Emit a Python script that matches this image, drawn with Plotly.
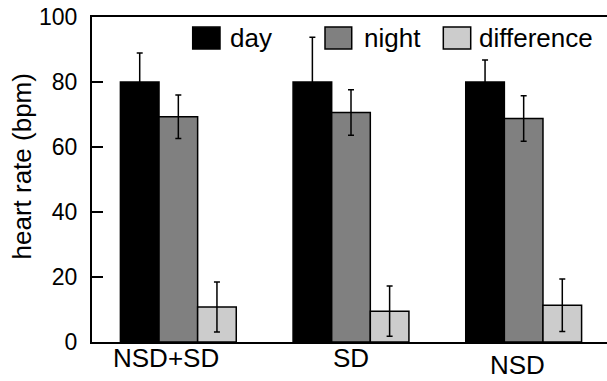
import plotly.graph_objects as go

categories = ["NSD+SD", "SD", "NSD"]
day = [80.0, 80.0, 80.0]
day_err = [8.9, 13.8, 6.8]
night = [69.3, 70.6, 68.8]
night_err = [6.7, 7.0, 7.0]
difference = [10.8, 9.5, 11.3]
difference_err = [7.7, 7.7, 8.1]
series_names = ["day", "night", "difference"]
y_ticks = [0, 20, 40, 60, 80, 100]

colors = ["#000000", "#808080", "#cccccc"]
FONT = "Liberation Sans, Arial, Helvetica, sans-serif"

fig = go.Figure()
for name, vals, errs, col in zip(series_names, [day, night, difference],
                                 [day_err, night_err, difference_err], colors):
    fig.add_trace(go.Bar(
        x=categories, y=vals, name=name,
        marker=dict(color=col, line=dict(color="black", width=1.5)),
        error_y=dict(type="data", array=errs, visible=True,
                     color="black", thickness=1.5, width=3),
        showlegend=False,
    ))

# custom legend (large swatches)
legend_x = [(0.1944, 0.2471, 0.2631), (0.4498, 0.5014, 0.5207), (0.6782, 0.7311, 0.7427)]
for (x0, x1, tx), name, col in zip(legend_x, series_names, colors):
    fig.add_shape(type="rect", xref="paper", yref="paper", x0=x0, x1=x1,
                  y0=0.9015, y1=0.969, fillcolor=col,
                  line=dict(color="black", width=1.5))
    fig.add_annotation(xref="paper", yref="paper", x=tx, y=0.935, text=name,
                       showarrow=False, xanchor="left", yanchor="middle",
                       font=dict(size=26, color="black", family=FONT))

# category labels
label_shift = [(-12, -16), (0, -16), (-6, -23)]
for cat, (dx, dy) in zip(categories, label_shift):
    fig.add_annotation(xref="x", yref="paper", x=cat, y=0, text=cat,
                       showarrow=False, xanchor="center", yanchor="middle",
                       xshift=dx, yshift=dy,
                       font=dict(size=26, color="black", family=FONT))

# y title
fig.add_annotation(xref="paper", yref="paper", x=-0.1342, y=0.5415,
                   text="heart rate (bpm)", textangle=-90, showarrow=False,
                   xanchor="center", yanchor="middle",
                   font=dict(size=26, color="black", family=FONT))

fig.update_layout(
    width=610, height=381,
    margin=dict(l=92, r=0, t=17, b=39, autoexpand=False),
    paper_bgcolor="white", plot_bgcolor="white",
    barmode="group", bargap=0.329, bargroupgap=0,
    font=dict(family=FONT, color="black"),
)
fig.update_xaxes(range=[-0.5, 2.5], showticklabels=False, ticks="",
                 showline=True, linecolor="black", linewidth=2, automargin=False,
                 mirror=True, showgrid=False, zeroline=False)
fig.update_yaxes(range=[0, 100], tickvals=y_ticks, ticks="inside", ticklen=11,
                 tickwidth=1.5, tickcolor="black", automargin=False, mirror=False,
                 showline=True, linecolor="black", linewidth=2, showgrid=False,
                 zeroline=False, tickfont=dict(size=23, family=FONT, color="black"),
                 ticklabelstandoff=8)

fig.write_html("out.html", config={"displayModeBar": False},
               post_script="document.body.style.margin='0';document.body.style.overflow='hidden';")
